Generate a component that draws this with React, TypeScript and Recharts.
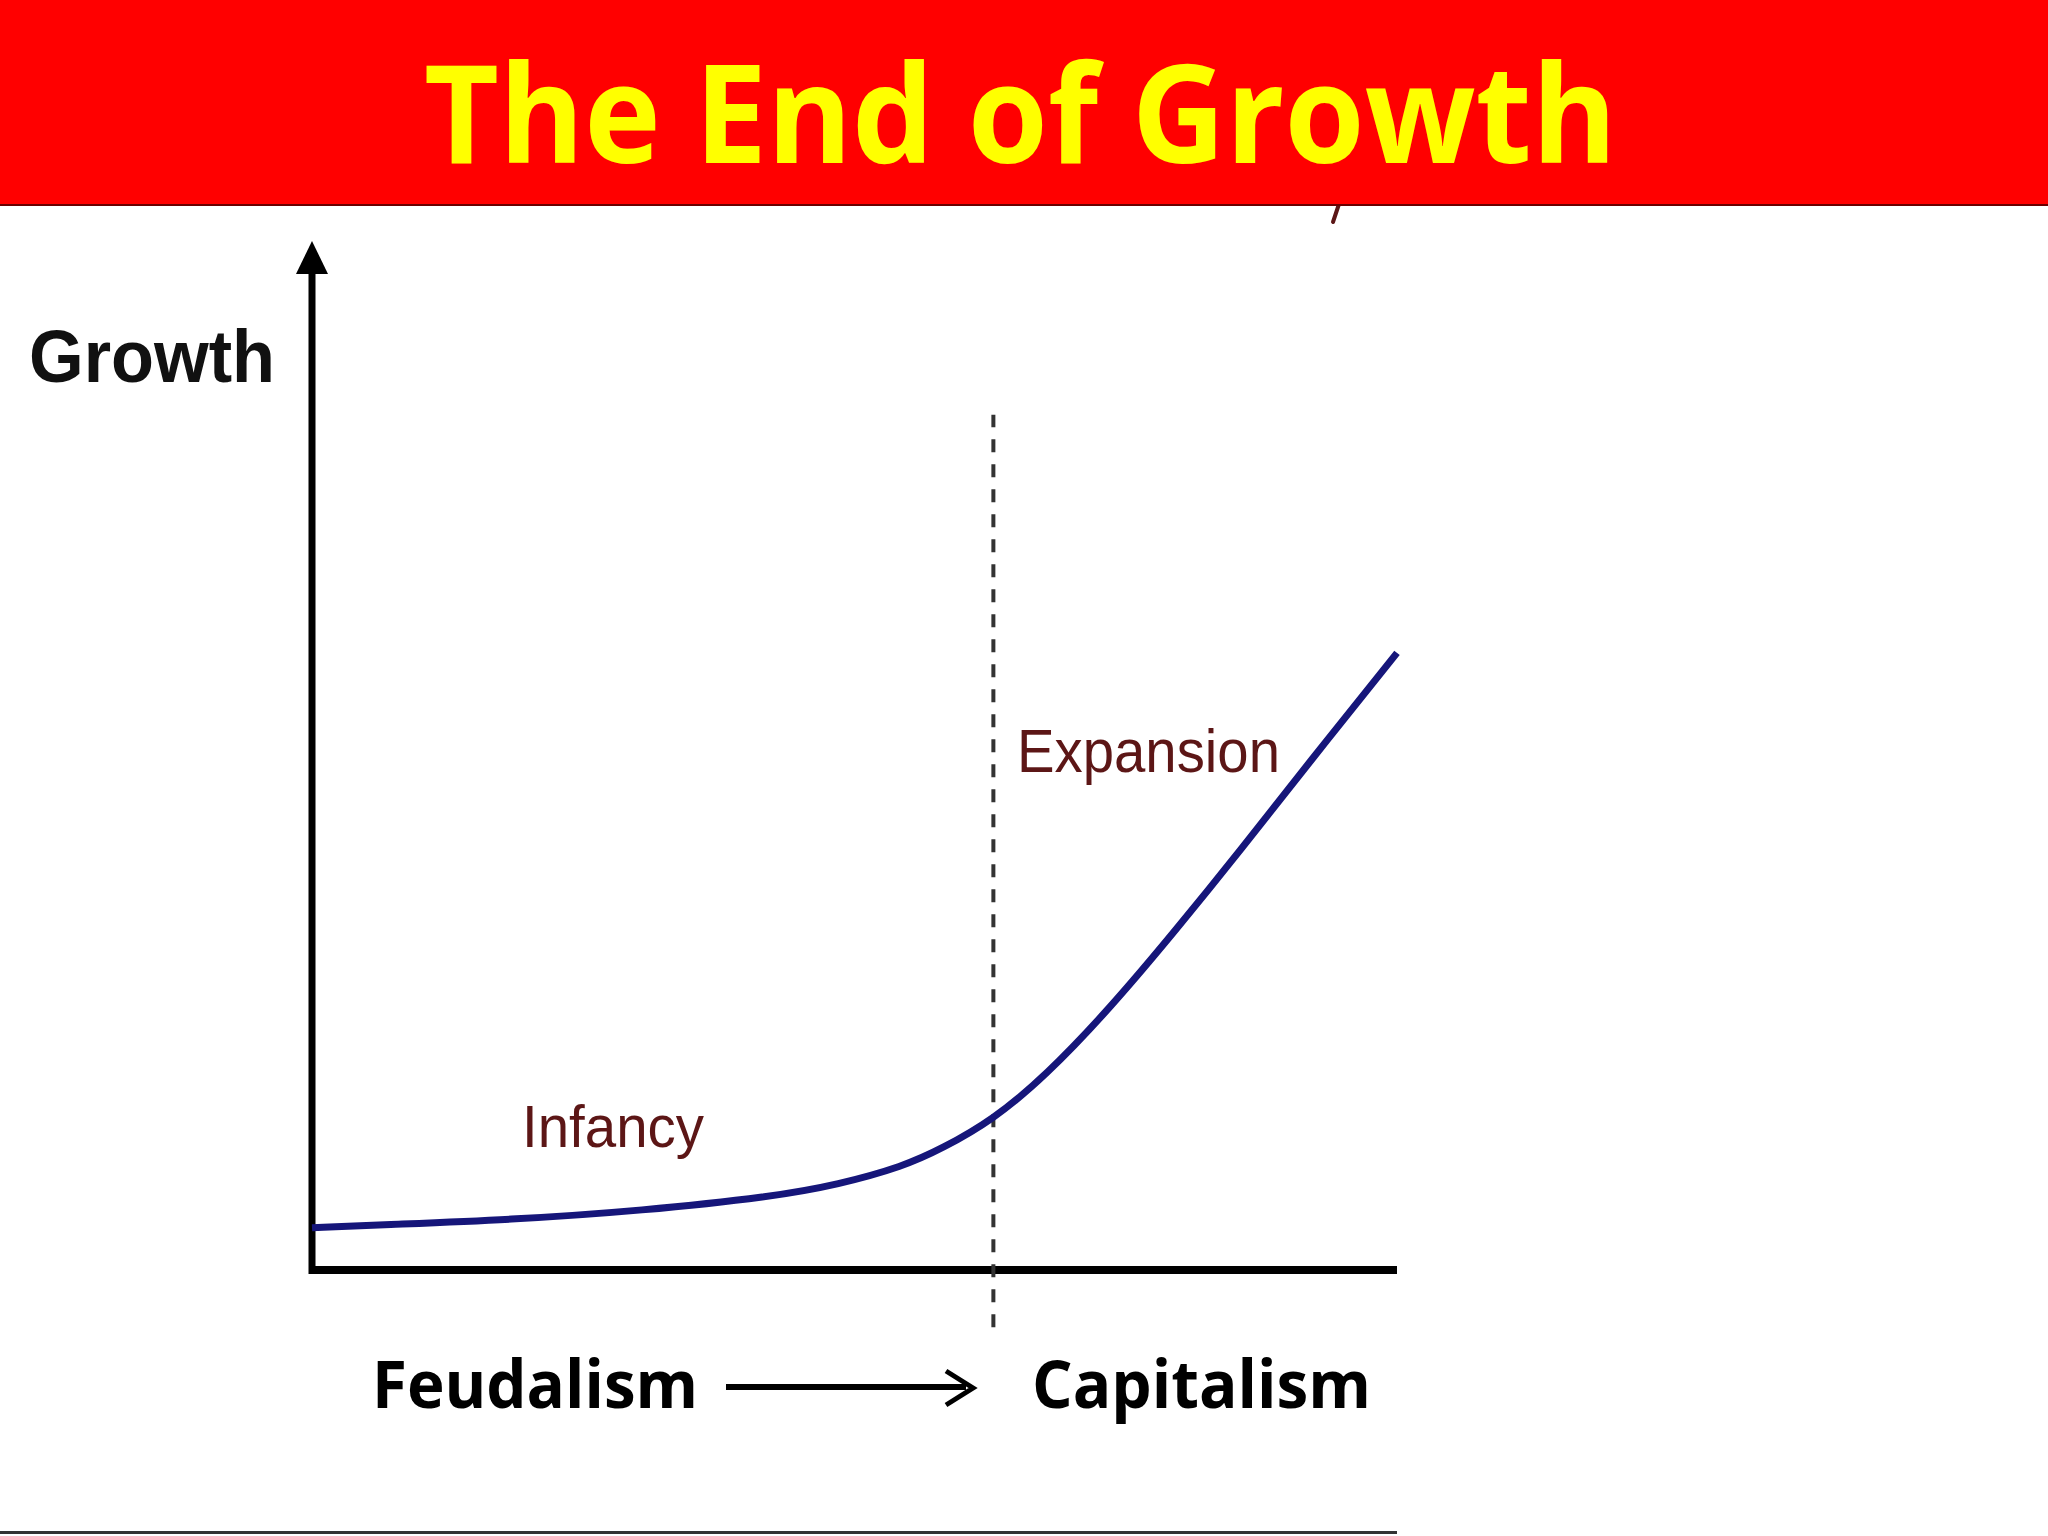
import React from "react";
import { Line, LineChart, ReferenceLine, XAxis, YAxis } from "recharts";

// time runs left to right 0..100, growth is measured up from the x axis 0..100
const time = [0, 6.3, 18.4, 30.4, 42.5, 48.5, 54.5, 58.1, 62.7, 67.6, 73.6, 79.6, 85.6, 91.6, 100];
const growth = [4.2, 4.5, 5.0, 5.9, 7.3, 8.5, 10.3, 12.1, 14.9, 19.3, 26.1, 33.8, 41.8, 50.1, 61.4];

const transitionAt = 62.8;
const title = "The End of Growth";
const phaseLabels = ["Infancy", "Expansion"];
const eraLabels = ["Feudalism", "Capitalism"];

const data = time.map((t, i) => ({ t, g: growth[i] }));

const maroon = "#5c1616";

const App: React.FC = () => {
  return (
    <div style={{ position: "absolute", left: 0, top: 0, width: 2048, height: 1536, background: "#fff" }}>
      <LineChart
        width={2048}
        height={1536}
        data={data}
        margin={{ top: 265, right: 651, bottom: 266, left: 312 }}
      >
        <XAxis type="number" dataKey="t" domain={[0, 100]} hide />
        <YAxis type="number" domain={[0, 100]} hide />
        {/* axes */}
        <ReferenceLine
          segment={[
            { x: 0, y: -0.4 },
            { x: 0, y: 100 },
          ]}
          stroke="#000"
          strokeWidth={7}
          ifOverflow="visible"
        />
        <ReferenceLine y={0} stroke="#000" strokeWidth={8} />
        <ReferenceLine
          segment={[
            { x: transitionAt, y: -5.7 },
            { x: transitionAt, y: 85.1 },
          ]}
          stroke="#333"
          strokeWidth={4}
          strokeDasharray="13 12"
          ifOverflow="visible"
        />
        <Line
          type="basis"
          dataKey="g"
          stroke="#16167a"
          strokeWidth={7}
          dot={false}
          isAnimationActive={false}
        />
      </LineChart>

      <svg
        width={2048}
        height={1536}
        style={{ position: "absolute", left: 0, top: 0, pointerEvents: "none" }}
      >
        {/* y axis arrow head */}
        <polygon points="312,241 296,274 328,274" fill="#000" />

        {/* stray descender peeking under the banner */}
        <path d="M1339,204 L1333,222" stroke={maroon} strokeWidth={4} strokeLinecap="round" />

        <rect x={0} y={0} width={2048} height={204} fill="#ff0000" />
        <rect x={0} y={204} width={2048} height={2} fill="#6a0000" />
        <text
          x={424}
          y={163}
          fontFamily="Open Sans, sans-serif"
          fontWeight={700}
          fontSize={137}
          fill="#ffff00"
          textLength={1193}
          lengthAdjust="spacingAndGlyphs"
        >
          {title}
        </text>

        <text
          x={29}
          y={382}
          fontFamily="Liberation Sans, Arial, sans-serif"
          fontWeight={700}
          fontSize={75}
          fill="#111"
          textLength={246}
          lengthAdjust="spacingAndGlyphs"
        >
          Growth
        </text>

        <text
          x={522}
          y={1147}
          fontFamily="Liberation Sans, Arial, sans-serif"
          fontSize={60}
          fill={maroon}
          textLength={182}
          lengthAdjust="spacingAndGlyphs"
        >
          {phaseLabels[0]}
        </text>
        <text
          x={1017}
          y={772}
          fontFamily="Liberation Sans, Arial, sans-serif"
          fontSize={62}
          fill={maroon}
          textLength={263}
          lengthAdjust="spacingAndGlyphs"
        >
          {phaseLabels[1]}
        </text>

        <text
          x={372}
          y={1408}
          fontFamily="Open Sans, sans-serif"
          fontWeight={700}
          fontSize={67}
          fill="#000"
          textLength={326}
          lengthAdjust="spacingAndGlyphs"
        >
          {eraLabels[0]}
        </text>
        <line x1={726} y1={1387} x2={966} y2={1387} stroke="#000" strokeWidth={6} />
        <polyline points="946,1371 973,1388 946,1405" fill="none" stroke="#000" strokeWidth={5} />
        <text
          x={1032}
          y={1408}
          fontFamily="Open Sans, sans-serif"
          fontWeight={700}
          fontSize={67}
          fill="#000"
          textLength={339}
          lengthAdjust="spacingAndGlyphs"
        >
          {eraLabels[1]}
        </text>

        <rect x={0} y={1531} width={1397} height={3} fill="#333" />
      </svg>
    </div>
  );
};

export default App;
